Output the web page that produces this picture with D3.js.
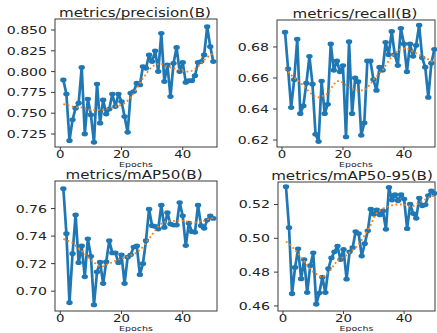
<!DOCTYPE html>
<html>
<head>
<meta charset="utf-8">
<script src="https://cdn.jsdelivr.net/npm/d3@7/dist/d3.min.js"></script>
<style>
  html, body { margin:0; padding:0; background:#fff; }
  svg { display:block; }
  text { font-family: "DejaVu Sans", sans-serif; fill:#222; }
</style>
</head>
<body>
<svg id="chart" width="437" height="333"></svg>
<script>
// epochs on x
const epochs = [1,2,3,4,5,6,7,8,9,10,11,12,13,14,15,16,17,18,19,20,21,22,23,24,25,
  26,27,28,29,30,31,32,33,34,35,36,37,38,39,40,41,42,43,44,45,46,47,48,49,50];
const xTicks = [0, 20, 40];

// raw series
const precision = [0.790,0.773,0.717,0.742,0.756,0.762,0.805,0.725,0.767,0.748,
  0.715,0.785,0.738,0.766,0.749,0.755,0.773,0.758,0.773,0.764,
  0.746,0.727,0.774,0.776,0.786,0.784,0.806,0.804,0.820,0.812,
  0.825,0.800,0.846,0.788,0.808,0.770,0.810,0.829,0.800,0.811,
  0.787,0.789,0.789,0.795,0.811,0.812,0.820,0.854,0.830,0.812];
const recall = [0.6895,0.6658,0.6409,0.6589,0.685,0.637,0.642,0.6566,0.674,0.656,
  0.6237,0.619,0.658,0.637,0.643,0.682,0.665,0.671,0.664,0.668,
  0.622,0.6834,0.637,0.660,0.6576,0.623,0.631,0.671,0.671,0.659,
  0.652,0.667,0.665,0.683,0.675,0.690,0.675,0.668,0.692,0.682,
  0.664,0.682,0.674,0.681,0.694,0.673,0.667,0.6475,0.6695,0.6785];
const mAP50 = [0.7744,0.7417,0.6916,0.7272,0.7554,0.7207,0.7328,0.7104,0.738,0.7253,
  0.690,0.714,0.721,0.7055,0.7212,0.7367,0.7278,0.7278,0.7207,0.7264,
  0.7055,0.7247,0.7264,0.732,0.7328,0.712,0.720,0.7367,0.7595,0.7475,
  0.747,0.7451,0.7624,0.7463,0.757,0.7487,0.748,0.748,0.7643,0.7547,
  0.7331,0.7494,0.7432,0.7427,0.7624,0.7475,0.7456,0.7516,0.7547,0.7528];
const mAP5095 = [0.5305,0.5063,0.4672,0.4828,0.4938,0.476,0.4874,0.4679,0.4838,0.4914,
  0.461,0.4676,0.477,0.4679,0.482,0.4884,0.492,0.4954,0.4874,0.4934,
  0.4758,0.492,0.4944,0.504,0.5028,0.4895,0.4968,0.5044,0.5172,0.5142,
  0.5168,0.5138,0.5162,0.5053,0.5301,0.5226,0.5258,0.5222,0.5258,0.5232,
  0.5057,0.5202,0.5146,0.5118,0.5238,0.5192,0.5198,0.5252,0.5281,0.5265];

// smoothed (orange dotted) series, also
const precisionSmooth = [0.761,0.760,0.759,0.758,0.757,0.757,0.757,0.756,0.755,0.754,
  0.754,0.754,0.754,0.754,0.755,0.756,0.757,0.758,0.759,0.760,
  0.762,0.765,0.769,0.774,0.780,0.786,0.792,0.797,0.802,0.806,
  0.808,0.809,0.809,0.808,0.806,0.805,0.804,0.803,0.802,0.801,
  0.800,0.800,0.801,0.803,0.806,0.810,0.814,0.817,0.820,0.822];
const recallSmooth = [0.666,0.664,0.662,0.660,0.659,0.657,0.655,0.653,0.651,0.649,
  0.648,0.6475,0.648,0.649,0.650,0.653,0.656,0.658,0.658,0.657,
  0.6555,0.654,0.653,0.6525,0.652,0.652,0.652,0.654,0.656,0.659,
  0.661,0.663,0.665,0.668,0.671,0.674,0.676,0.678,0.6785,0.679,
  0.679,0.678,0.677,0.676,0.675,0.674,0.673,0.672,0.671,0.6695];
const mAP50Smooth = [0.738,0.737,0.736,0.735,0.733,0.731,0.729,0.727,0.725,0.723,
  0.721,0.719,0.718,0.718,0.719,0.720,0.721,0.722,0.723,0.724,
  0.724,0.725,0.726,0.727,0.728,0.730,0.732,0.735,0.738,0.741,
  0.744,0.747,0.749,0.750,0.751,0.751,0.751,0.751,0.751,0.751,
  0.751,0.750,0.750,0.750,0.750,0.751,0.751,0.752,0.753,0.753];
const mAP5095Smooth = [0.498,0.497,0.495,0.493,0.491,0.489,0.4865,0.484,0.482,0.480,
  0.479,0.4775,0.477,0.478,0.480,0.482,0.4845,0.487,0.488,0.489,
  0.490,0.4915,0.493,0.4945,0.4965,0.499,0.502,0.505,0.508,0.512,
  0.515,0.5165,0.5175,0.5185,0.519,0.5195,0.520,0.520,0.520,0.520,
  0.5195,0.519,0.519,0.520,0.521,0.522,0.523,0.524,0.525,0.525];

const precisionTicks = [0.725,0.750,0.775,0.800,0.825,0.850];
const recallTicks = [0.62,0.64,0.66,0.68];
const mAP50Ticks = [0.70,0.72,0.74,0.76];
const mAP5095Ticks = [0.46,0.48,0.50,0.52];

const titles = ["metrics/precision(B)","metrics/recall(B)","metrics/mAP50(B)","metrics/mAP50-95(B)"];

// layout of each subplot (the picture is stretched sideways, hence SX)
const SX = 1.28;
const panels = [
  {title:titles[0], raw:precision, smooth:precisionSmooth, ticks:precisionTicks, fmt:".3f",
   box:{l:55,r:217,t:19,b:147}, titleX:135, xDom:[-1.73,51.2], yDom:[0.7094,0.8632]},
  {title:titles[1], raw:recall, smooth:recallSmooth, ticks:recallTicks, fmt:".2f",
   box:{l:277,r:435,t:20,b:147}, titleX:355, xDom:[-1.64,50.2], yDom:[0.6155,0.6974]},
  {title:titles[2], raw:mAP50, smooth:mAP50Smooth, ticks:mAP50Ticks, fmt:".2f",
   box:{l:55,r:217,t:181,b:311}, titleX:134, xDom:[-1.73,51.2], yDom:[0.6856,0.7800]},
  {title:titles[3], raw:mAP5095, smooth:mAP5095Smooth, ticks:mAP5095Ticks, fmt:".2f",
   box:{l:278,r:435,t:182,b:311}, titleX:352, xDom:[-1.64,50.2], yDom:[0.4570,0.5333]},
];

const svg = d3.select("#chart");

function stext(g, x, y, str, size, anchor){
  return g.append("text")
    .attr("transform", `translate(${x},${y}) scale(${SX},1)`)
    .attr("text-anchor", anchor)
    .attr("font-size", size)
    .text(str);
}

function drawPanel(p){
  const b = p.box;
  const g = svg.append("g");
  const x = d3.scaleLinear().domain(p.xDom).range([b.l, b.r]);
  const y = d3.scaleLinear().domain(p.yDom).range([b.b, b.t]);

  // spines
  g.append("rect")
    .attr("x", b.l).attr("y", b.t)
    .attr("width", b.r-b.l).attr("height", b.b-b.t)
    .attr("fill","none").attr("stroke","#3a3a3a").attr("stroke-width",1);

  // x ticks
  xTicks.forEach(t=>{
    g.append("line").attr("x1",x(t)).attr("x2",x(t)).attr("y1",b.b).attr("y2",b.b+3)
      .attr("stroke","#3a3a3a");
    stext(g, x(t), b.b+10.8, d3.format("d")(t), 10.4, "middle");
  });
  // y ticks
  const f = d3.format(p.fmt);
  p.ticks.forEach(t=>{
    g.append("line").attr("x1",b.l-4).attr("x2",b.l).attr("y1",y(t)).attr("y2",y(t))
      .attr("stroke","#3a3a3a");
    stext(g, b.l-8, y(t)+4, f(t), 11, "end");
  });

  // raw line with dot markers
  const line = d3.line().x((d,i)=>x(epochs[i])).y(d=>y(d));
  g.append("path").attr("d", line(p.raw))
    .attr("fill","none").attr("stroke","#1f77b4").attr("stroke-width",2.7)
    .attr("stroke-linejoin","round");
  g.selectAll("ellipse").data(p.raw).enter().append("ellipse")
    .attr("cx",(d,i)=>x(epochs[i])).attr("cy",d=>y(d))
    .attr("rx",3.2).attr("ry",2.4).attr("fill","#1f77b4");

  // smoothed dotted line
  g.append("path").attr("d", line(p.smooth))
    .attr("fill","none").attr("stroke","#ff7f0e").attr("stroke-width",1.8)
    .attr("stroke-dasharray","1.8,2.6");

  // title and x label
  stext(g, p.titleX, b.t-1.8, p.title, 11.8, "middle");
  stext(g, (b.l+b.r)/2, b.b+20, "Epochs", 7.4, "middle");
}

panels.forEach(drawPanel);
</script>
</body>
</html>
